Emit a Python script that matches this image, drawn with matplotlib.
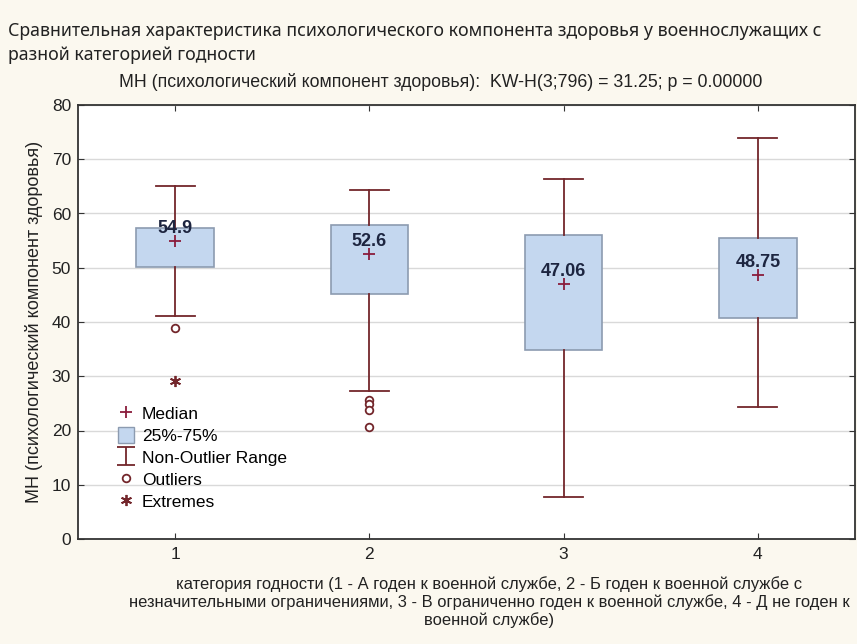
import numpy as np
import matplotlib
matplotlib.use("Agg")
import matplotlib.pyplot as plt
from matplotlib.lines import Line2D
from matplotlib.patches import Patch
from matplotlib.path import Path

# --- data -------------------------------------------------------------
groups = [1, 2, 3, 4]
medians = [54.9, 52.6, 47.06, 48.75]
q1 = [50.2, 45.1, 34.8, 40.8]
q3 = [57.4, 57.8, 56.0, 55.4]
whisk_lo = [41.1, 27.2, 7.7, 24.4]
whisk_hi = [65.1, 64.3, 66.4, 74.0]
outlier_x = [1, 2, 2, 2, 2]
outlier_y = [38.9, 25.6, 24.8, 23.8, 20.7]
extreme_x = [1]
extreme_y = [29.1]

title = ("Сравнительная характеристика психологического компонента здоровья у военнослужащих с\n"
         "разной категорией годности")
subtitle = "MH (психологический компонент здоровья):  KW-H(3;796) = 31.25; p = 0.00000"
ylabel = "MH (психологический компонент здоровья)"
xlabel = ("категория годности (1 - А годен к военной службе, 2 - Б годен к военной службе с\n"
          "незначительными ограничениями, 3 - В ограниченно годен к военной службе, 4 - Д не годен к\n"
          "военной службе)")

font = "Liberation Sans"
bg = "#fbf8ef"
box_fill = "#c4d7ef"
box_edge = "#8c9bb0"
whisk_col = "#73262b"
med_col = "#8a1c3c"
txt = "#222222"

fig = plt.figure(figsize=(8.57, 6.44), dpi=100, facecolor=bg)
ax = fig.add_axes([78 / 857, 1 - 539 / 644, (855 - 78) / 857, (539 - 105) / 644])
ax.set_facecolor("white")

stats = []
for g, m, lo, hi, wl, wh in zip(groups, medians, q1, q3, whisk_lo, whisk_hi):
    stats.append(dict(med=m, q1=lo, q3=hi, whislo=wl, whishi=wh, fliers=[], label=str(g)))

ax.bxp(stats, positions=groups, widths=0.4, capwidths=0.2, patch_artist=True,
       showfliers=False,
       boxprops=dict(facecolor=box_fill, edgecolor=box_edge, linewidth=1.2),
       whiskerprops=dict(color=whisk_col, linewidth=1.3),
       capprops=dict(color=whisk_col, linewidth=1.3),
       medianprops=dict(linewidth=0))

ax.plot(groups, medians, ls="none", marker="+", ms=9, mew=1.3, color=med_col, zorder=4)
ax.plot(outlier_x, outlier_y, ls="none", marker="o", ms=5.5, mfc="white", mec=whisk_col, mew=1.3, zorder=4)
ax.plot(extreme_x, extreme_y, ls="none", marker=(6, 2, 0), ms=8, mew=1.3, color=whisk_col, zorder=4)

# median values written above the "+" marks
for g, m in zip(groups, medians):
    ax.annotate(f"{m:g}", (g, m), xytext=(0, 9), textcoords="offset points",
                ha="center", va="center", fontsize=13, fontweight="bold",
                family=font, color="#1d2540", zorder=5)

ax.set_xlim(0.5, 4.5)
ax.set_ylim(0, 80)
ax.set_yticks(range(0, 81, 10))
ax.set_xticks(groups)
ax.yaxis.grid(True, color="#d9d9d9", linewidth=1)
ax.set_axisbelow(True)
ax.tick_params(direction="in", length=4, top=True, right=True, labelsize=12.5,
               colors="#333333", labelcolor=txt, pad=5)
ax.tick_params(axis="x", pad=6)
for lab in ax.get_xticklabels() + ax.get_yticklabels():
    lab.set_family(font)
for s in ax.spines.values():
    s.set_color("#333333")
    s.set_linewidth(1.3)

ax.set_ylabel(ylabel, family=font, fontsize=13, color=txt, labelpad=6)

fig.text(8 / 857, 1 - 43 / 644, title, ha="left", va="center", fontsize=12.8,
         family="Noto Sans", color=txt, linespacing=1.45)
fig.text(441 / 857, 1 - 82 / 644, subtitle, ha="center", va="center", fontsize=12.8,
         family=font, color=txt)
fig.text(489 / 857, 1 - 602 / 644, xlabel, ha="center", va="center", fontsize=11.9,
         family=font, color=txt, linespacing=1.15)

# legend
ibeam = Path([(-1, 1), (1, 1), (0, 1), (0, -1), (-1, -1), (1, -1)],
             [Path.MOVETO, Path.LINETO, Path.MOVETO, Path.LINETO, Path.MOVETO, Path.LINETO])
handles = [
    Line2D([], [], ls="none", marker="+", ms=9, mew=1.3, color=med_col),
    Patch(facecolor=box_fill, edgecolor=box_edge),
    Line2D([], [], ls="none", marker=ibeam, ms=13, mew=1.3, color=whisk_col),
    Line2D([], [], ls="none", marker="o", ms=5.5, mfc="white", mec=whisk_col, mew=1.3),
    Line2D([], [], ls="none", marker=(6, 2, 0), ms=8, mew=1.3, color=whisk_col),
]
labels = ["Median", "25%-75%", "Non-Outlier Range", "Outliers", "Extremes"]
ax.legend(handles, labels, loc="upper left", bbox_to_anchor=(0.052, 0.31), frameon=False,
          prop=dict(family=font, size=12.5), handlelength=0.9, handleheight=1.1,
          handletextpad=0.45, labelspacing=0.28, borderaxespad=0, borderpad=0)

fig.savefig("out.png", dpi=100, facecolor=bg)
